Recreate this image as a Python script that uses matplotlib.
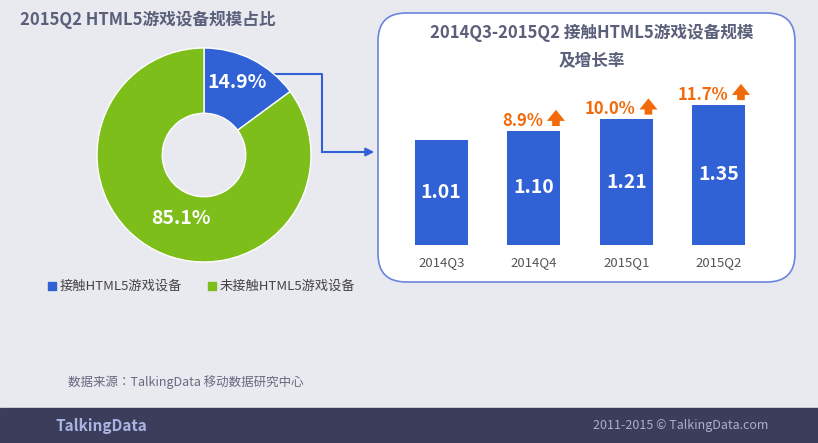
import matplotlib
matplotlib.use('Agg')
import matplotlib.pyplot as plt
from matplotlib.patches import FancyBboxPatch, Rectangle

plt.rcParams['font.family'] = ['Noto Sans CJK JP', 'Noto Sans CJK SC', 'DejaVu Sans']

pie_labels = ['接触HTML5游戏设备', '未接触HTML5游戏设备']
pie_values = [14.9, 85.1]
quarters = ['2014Q3', '2014Q4', '2015Q1', '2015Q2']
scale = [1.01, 1.10, 1.21, 1.35]
growth = [None, '8.9%', '10.0%', '11.7%']

BLUE = '#3062d6'
GREEN = '#7dbe1a'
ORANGE = '#f26a0a'
W, H = 818, 443

def fa(x0, y0, x1, y1):
    # pixel box (top-left origin) -> figure coords
    return [x0 / W, 1 - y1 / H, (x1 - x0) / W, (y1 - y0) / H]

fig = plt.figure(figsize=(8.18, 4.43), dpi=100)
fig.patch.set_facecolor('#e9eaf0')
bg = fig.add_axes([0, 0, 1, 1])
bg.set_xlim(0, W)
bg.set_ylim(H, 0)
bg.axis('off')

# footer
bg.add_patch(Rectangle((0, 408), W, 35, color='#3b3d5b'))
bg.text(55, 426, 'TalkingData', color='#aab4e0', fontsize=11, fontweight='bold', va='center')
bg.text(768, 426, '2011-2015 © TalkingData.com', color='#aab0cc', fontsize=9, va='center', ha='right')
bg.text(68, 382, '数据来源：TalkingData 移动数据研究中心', color='#666a80', fontsize=9, va='center')

# panel
bg.add_patch(FancyBboxPatch((378, 13), 417, 269, boxstyle='round,pad=0,rounding_size=28',
                            facecolor='white', edgecolor='#6a86dc', lw=1.2))
bg.text(592, 33, '2014Q3-2015Q2 接触HTML5游戏设备规模', color='#5a5f7a', fontsize=12,
        fontweight='bold', ha='center', va='center')
bg.text(592, 60, '及增长率', color='#5a5f7a', fontsize=12, fontweight='bold', ha='center', va='center')
bg.text(20, 20, '2015Q2 HTML5游戏设备规模占比', color='#5a5f7a', fontsize=12,
        fontweight='bold', ha='left', va='center')

# connector
bg.plot([275, 322, 322], [74, 74, 152], color=BLUE, lw=1.5)
bg.annotate('', xy=(377, 152), xytext=(321, 152),
            arrowprops=dict(arrowstyle='-|>', color=BLUE, lw=1.5, mutation_scale=12))

# legend
for lx, lab, c in [(48, pie_labels[0], BLUE), (208, pie_labels[1], GREEN)]:
    bg.add_patch(Rectangle((lx, 282), 8, 8, color=c))
    bg.text(lx + 12, 286, lab, color='#444', fontsize=9.5, va='center')

# donut
ax = fig.add_axes(fa(97, 48, 311, 262))
ax.pie(pie_values, colors=[BLUE, GREEN], startangle=90, counterclock=False,
       wedgeprops=dict(width=0.61, edgecolor='white', linewidth=1))
ax.set_xlim(-1, 1)
ax.set_ylim(-1, 1)
ax.set_aspect('equal')
ax.text(0.31, 0.68, '%.1f%%' % pie_values[0], color='white', fontsize=14, fontweight='bold',
        ha='center', va='center')
ax.text(-0.22, -0.59, '%.1f%%' % pie_values[1], color='white', fontsize=14, fontweight='bold',
        ha='center', va='center')

# bars
bx = fig.add_axes(fa(395, 79, 765, 245))
bx.bar(range(4), scale, width=0.57, color=BLUE)
bx.set_xlim(-0.5, 3.5)
bx.set_ylim(0, 1.6)
bx.axis('off')
for i, v in enumerate(scale):
    bx.text(i, v / 2, '%.2f' % v, color='white', fontsize=14, fontweight='bold', ha='center', va='center')
    bx.text(i, -0.17, quarters[i], color='#555', fontsize=9.5, ha='center', va='center')
    if growth[i]:
        bx.text(i + 0.1, v + 0.1, growth[i], color=ORANGE, fontsize=12, fontweight='bold',
                ha='right', va='center')
        bx.annotate('', xy=(i + 0.24, v + 0.23), xytext=(i + 0.24, v + 0.02),
                    arrowprops=dict(arrowstyle='simple,head_width=1.3,head_length=0.8,tail_width=0.55',
                                    color=ORANGE, lw=0))

fig.savefig('out.png', dpi=100, facecolor=fig.get_facecolor())
